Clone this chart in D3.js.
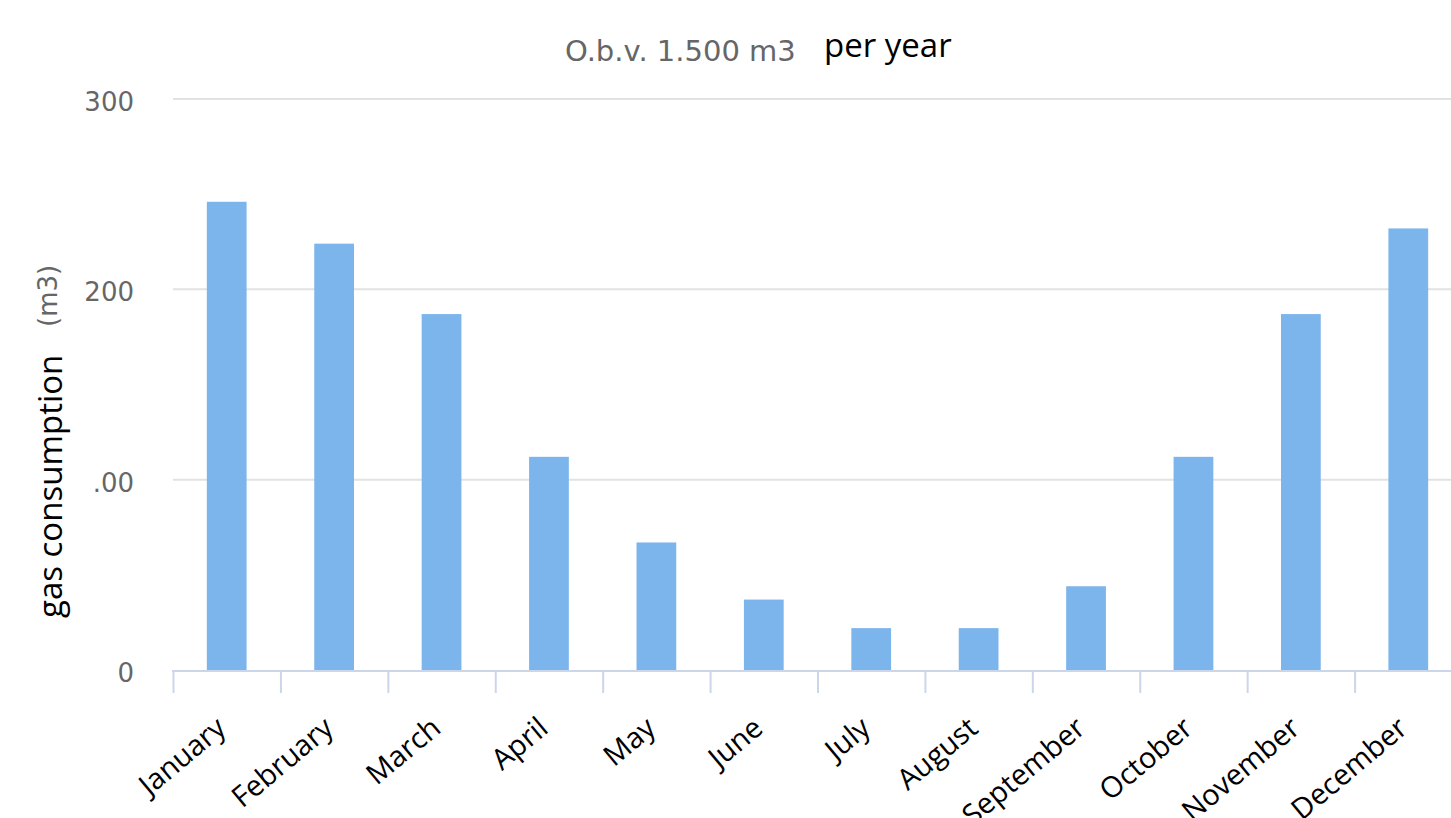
<!DOCTYPE html>
<html>
<head>
<meta charset="utf-8">
<script src="https://cdn.jsdelivr.net/npm/d3@7"></script>
<style>
  html, body { margin: 0; padding: 0; background: #fff; }
  svg { display: block; }
</style>
</head>
<body>
<svg id="chart" width="1451" height="818"></svg>
<script>
// Monthly gas consumption (m3), total about 1.500 m3 per year
const months = ["January", "February", "March", "April", "May", "June",
                "July", "August", "September", "October", "November", "December"];
const consumption = [246, 224, 187, 112, 67, 37, 22, 22, 44, 112, 187, 232];
const yTicks = [0, 100, 200, 300];
const yTickLabels = ["0", ".00", "200", "300"];

const svg = d3.select("#chart");
const W = 1451;

const x = d3.scaleBand()
  .domain(months)
  .range([173, 1462])
  .paddingInner(0.63)
  .paddingOuter(0.315);

const xOuter = d3.scaleBand().domain(months).range([173, 1462]);

const y = d3.scaleLinear().domain([0, 300]).range([670, 99]);

const grayFont = "'DejaVu Sans', 'Open Sans', sans-serif";
const blackFont = "'Open Sans', 'Liberation Sans', sans-serif";

// grid lines
svg.append("g")
  .selectAll("line")
  .data(yTicks.filter(d => d > 0))
  .join("line")
  .attr("x1", 173).attr("x2", W)
  .attr("y1", d => y(d)).attr("y2", d => y(d))
  .attr("stroke", "#e2e2e2").attr("stroke-width", 2);

// y tick labels
svg.append("g")
  .selectAll("text")
  .data(yTicks)
  .join("text")
  .attr("x", 134)
  .attr("y", d => y(d) + 12)
  .attr("text-anchor", "end")
  .attr("font-family", grayFont)
  .attr("font-size", 26)
  .attr("fill", "#666")
  .text((d, i) => yTickLabels[i]);

// bars
svg.append("g")
  .selectAll("rect")
  .data(months)
  .join("rect")
  .attr("x", d => x(d))
  .attr("width", x.bandwidth())
  .attr("y", (d, i) => y(consumption[i]))
  .attr("height", (d, i) => y(0) - y(consumption[i]))
  .attr("fill", "#7cb5ec");

// x axis line and ticks
const xAxis = svg.append("g").attr("stroke", "#ccd6eb").attr("stroke-width", 2);
xAxis.append("line")
  .attr("x1", 172).attr("x2", W)
  .attr("y1", 671).attr("y2", 671);
xAxis.selectAll("line.tick")
  .data(months)
  .join("line")
  .attr("class", "tick")
  .attr("x1", d => xOuter(d) + 0.5).attr("x2", d => xOuter(d) + 0.5)
  .attr("y1", 671).attr("y2", 693);

// x labels, rotated
svg.append("g")
  .selectAll("text")
  .data(months)
  .join("text")
  .attr("transform", d => {
    const cx = x(d) + x.bandwidth() / 2 + 1;
    return `translate(${cx},731) rotate(-40)`;
  })
  .attr("text-anchor", "end")
  .attr("font-family", blackFont)
  .attr("font-size", 29)
  .attr("fill", "#000")
  .text(d => d);

// title
const title = svg.append("text");
title.append("tspan")
  .attr("x", 565).attr("y", 61)
  .attr("font-family", grayFont)
  .attr("font-size", 29)
  .attr("fill", "#666")
  .text("O.b.v. 1.500 m3");
title.append("tspan")
  .attr("x", 824).attr("y", 57)
  .attr("font-family", blackFont)
  .attr("font-size", 33)
  .attr("fill", "#000")
  .text("per year");

// y axis title
svg.append("text")
  .attr("transform", "translate(57,327) rotate(-90)")
  .attr("font-family", grayFont)
  .attr("font-size", 26)
  .attr("fill", "#666")
  .text("(m3)");
svg.append("text")
  .attr("transform", "translate(62,618) rotate(-90)")
  .attr("font-family", blackFont)
  .attr("font-size", 33)
  .attr("fill", "#000")
  .text("gas consumption");
</script>
</body>
</html>
